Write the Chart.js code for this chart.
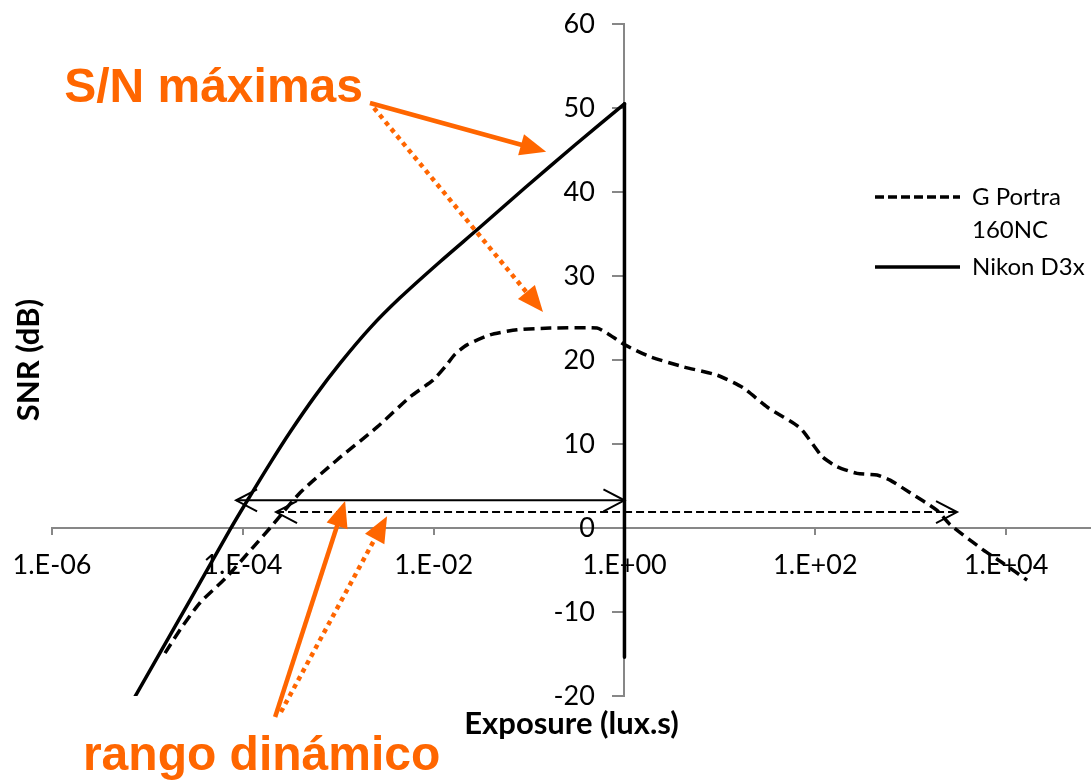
<!DOCTYPE html>
<html>
<head>
<meta charset="utf-8">
<script src="https://cdn.jsdelivr.net/npm/chart.js@4.4.1/dist/chart.umd.min.js"></script>
<style>
  html, body { margin: 0; padding: 0; background: #fff; }
</style>
</head>
<body>
<canvas id="snrChart" width="1091" height="781"></canvas>
<script>
// valori: esposizione (lux.s) e SNR (dB)
const portraExposure = [1.53e-5, 2.2e-5, 3.56e-5, 6.83e-5, 1.28e-4, 1.93e-4, 3.98e-4, 9.71e-4, 2.55e-3, 5.66e-3,
    9.86e-3, 1.32e-2, 1.68e-2, 2.24e-2, 3.9e-2, 7.48e-2, 0.166, 0.516, 0.657, 1.01,
    1.85, 4.11, 9.35, 17.5, 31.3, 69.3, 118, 169, 274, 444,
    608, 986, 1890, 2590, 5740, 9300, 16600];
const portraSnr = [-14.9, -12.1, -8.9, -5.8, -2.3, 0, 4.2, 8.1, 12.0, 15.6,
    17.6, 19.2, 20.7, 21.8, 23.0, 23.6, 23.8, 23.8, 23.2, 21.8,
    20.4, 19.2, 18.2, 16.7, 14.4, 11.9, 8.5, 7.3, 6.5, 6.3,
    5.7, 4.2, 2.1, 0.4, -2.6, -4.2, -6.2];

const nikonExposure = [7.06e-6, 2.8e-5, 7.34e-5, 1.19e-4, 1.93e-4, 3.12e-4, 5.71e-4, 1.044e-3, 2.15e-3, 4.44e-3,
    1.167e-2, 3.06e-2, 9.08e-2, 0.303, 1];
const nikonSnr = [-20.5, -8.6, -0.2, 3.8, 7.7, 11.4, 15.7, 19.6, 23.8, 27.4,
    31.7, 35.8, 40.5, 45.6, 50.5];
// la curva Nikon scende in verticale a 1 lux.s
const nikonDropExposure = [1, 1];
const nikonDropSnr = [50.5, -15.4];

// frecce del rango dinamico (inizio, fine)
const rangeNikonExposure = [8.5e-5, 1];
const rangeNikonSnr = [3.3, 3.3];
const rangePortraExposure = [2.23e-4, 3060];
const rangePortraSnr = [1.9, 1.9];

const seriesLabels = ['G Portra\n160NC', 'Nikon D3x'];
const xTickValues = [1e-6, 1e-4, 1e-2, 1, 1e2, 1e4];
const xTickLabels = ['1.E-06', '1.E-04', '1.E-02', '1.E+00', '1.E+02', '1.E+04'];
const yTickValues = [-20, -10, 0, 10, 20, 30, 40, 50, 60];

// annotazioni arancioni, in coordinate dei dati
const calloutArrows = [
    { from: [2.15e-3, 50.6], to: [0.151, 44.8], dotted: false },
    { from: [2.37e-3, 50.0], to: [0.140, 25.7], dotted: true },
    { from: [2.18e-4, -22.5], to: [1.18e-3, 3.2], dotted: false },
    { from: [2.51e-4, -21.9], to: [3.25e-3, 1.4], dotted: true }
];
const calloutTexts = [
    { text: 'S/N máximas', at: [1.34e-6, 50.7] },
    { text: 'rango dinámico', at: [2.11e-6, -28.8] }
];

const orange = '#ff6600';
const axisGray = '#878787';

const toPoints = (xs, ys) => xs.map((x, i) => ({ x: x, y: ys[i] }));

Chart.defaults.font.family = 'Lato';
Chart.defaults.color = '#000';

// punte aperte delle frecce orizzontali
const rangeHeads = {
    id: 'rangeHeads',
    afterDatasetsDraw(chart) {
        const ctx = chart.ctx;
        ctx.save();
        ctx.strokeStyle = '#000';
        ctx.lineWidth = 2;
        [3, 4].forEach(i => {
            const pts = chart.getDatasetMeta(i).data;
            const ends = [[pts[0], -1], [pts[pts.length - 1], 1]];
            ends.forEach(([p, dir]) => {
                ctx.beginPath();
                ctx.moveTo(p.x - dir * 21, p.y - 11);
                ctx.lineTo(p.x, p.y);
                ctx.lineTo(p.x - dir * 21, p.y + 11);
                ctx.stroke();
            });
        });
        ctx.restore();
    }
};

const callouts = {
    id: 'callouts',
    afterDraw(chart) {
        const { ctx, scales: { x, y } } = chart;
        ctx.save();
        ctx.fillStyle = orange;
        ctx.strokeStyle = orange;
        calloutArrows.forEach(a => {
            const x0 = x.getPixelForValue(a.from[0]), y0 = y.getPixelForValue(a.from[1]);
            const x1 = x.getPixelForValue(a.to[0]), y1 = y.getPixelForValue(a.to[1]);
            const ang = Math.atan2(y1 - y0, x1 - x0);
            const c = Math.cos(ang), s = Math.sin(ang);
            const bx = x1 - c * 26, by = y1 - s * 26;
            ctx.lineWidth = 4.5;
            ctx.lineCap = 'butt';
            ctx.setLineDash(a.dotted ? [4.5, 4.5] : []);
            ctx.beginPath();
            ctx.moveTo(x0, y0);
            ctx.lineTo(bx + c * 2, by + s * 2);
            ctx.stroke();
            ctx.setLineDash([]);
            ctx.beginPath();
            ctx.moveTo(x1, y1);
            ctx.lineTo(bx - s * 11, by + c * 11);
            ctx.lineTo(bx + s * 11, by - c * 11);
            ctx.closePath();
            ctx.fill();
        });
        ctx.font = 'bold 48px "Liberation Sans", Arial, sans-serif';
        ctx.textAlign = 'left';
        ctx.textBaseline = 'alphabetic';
        calloutTexts.forEach(t => {
            ctx.fillText(t.text, x.getPixelForValue(t.at[0]), y.getPixelForValue(t.at[1]));
        });
        ctx.restore();
    }
};

// sposta la legenda dentro l'area del grafico, in alto a destra
const legendPlacer = {
    id: 'legendPlacer',
    afterLayout(chart) {
        const lg = chart.legend;
        lg.left = 871;
        lg.top = 181;
        lg.right = chart.width;
        lg.bottom = chart.height;
    }
};

const noPadding = scale => {
    scale.paddingTop = 0;
    scale.paddingBottom = 0;
    scale.paddingLeft = 0;
    scale.paddingRight = 0;
};

new Chart(document.getElementById('snrChart'), {
    type: 'line',
    data: {
        datasets: [
            {
                label: seriesLabels[0],
                data: toPoints(portraExposure, portraSnr),
                borderColor: '#000',
                borderWidth: 3.5,
                borderDash: [11, 6],
                pointRadius: 0,
                tension: 0.2
            },
            {
                label: seriesLabels[1],
                data: toPoints(nikonExposure, nikonSnr),
                borderColor: '#000',
                borderWidth: 3.5,
                borderCapStyle: 'round',
                pointRadius: 0,
                tension: 0.3
            },
            {
                label: 'Nikon D3x drop',
                data: toPoints(nikonDropExposure, nikonDropSnr),
                borderColor: '#000',
                borderWidth: 3.5,
                borderCapStyle: 'round',
                pointRadius: 0
            },
            {
                label: 'range Nikon',
                data: toPoints(rangeNikonExposure, rangeNikonSnr),
                borderColor: '#000',
                borderWidth: 2,
                pointRadius: 0
            },
            {
                label: 'range Portra',
                data: toPoints(rangePortraExposure, rangePortraSnr),
                borderColor: '#000',
                borderWidth: 2,
                borderDash: [8, 4],
                pointRadius: 0
            }
        ]
    },
    options: {
        responsive: false,
        animation: false,
        layout: { padding: { left: 0, right: 0, top: 24, bottom: 0 } },
        plugins: {
            tooltip: { enabled: false },
            legend: {
                position: 'chartArea',
                align: 'start',
                labels: {
                    usePointStyle: true,
                    pointStyle: 'line',
                    pointStyleWidth: 85,
                    boxWidth: 85,
                    padding: 4,
                    color: '#000',
                    font: { size: 24, lineHeight: 1.375 },
                    generateLabels: chart => chart.data.datasets.slice(0, 2).map((ds, i) => ({
                        text: ds.label.split('\n'),
                        fontColor: '#000',
                        fillStyle: ds.borderColor,
                        strokeStyle: ds.borderColor,
                        lineWidth: 3.5,
                        lineDash: ds.borderDash ? [9, 4] : [],
                        lineCap: 'butt',
                        pointStyle: 'line',
                        hidden: false,
                        datasetIndex: i
                    }))
                }
            }
        },
        scales: {
            x: {
                type: 'logarithmic',
                position: { y: 0 },
                min: 1e-6,
                max: 77600,
                afterBuildTicks: scale => { scale.ticks = xTickValues.map(v => ({ value: v })); },
                afterFit: noPadding,
                grid: { display: true, drawOnChartArea: false, drawTicks: true, tickLength: 6, color: axisGray, lineWidth: 2 },
                border: { display: true, color: axisGray, width: 2 },
                ticks: {
                    autoSkip: false,
                    maxRotation: 0,
                    padding: 15,
                    font: { size: 27 },
                    color: '#000',
                    callback: (value, index) => xTickLabels[index]
                }
            },
            y: {
                type: 'linear',
                position: { x: 1 },
                min: -20,
                max: 60,
                afterBuildTicks: scale => { scale.ticks = yTickValues.map(v => ({ value: v })); },
                afterFit: noPadding,
                grid: { display: true, drawOnChartArea: false, drawTicks: true, tickLength: 11, color: axisGray, lineWidth: 2 },
                border: { display: true, color: axisGray, width: 2 },
                ticks: { display: false }
            },
            // le etichette dell'asse y, un po' a sinistra dell'asse
            yLabels: {
                type: 'linear',
                position: { x: 0.49 },
                min: -20,
                max: 60,
                afterBuildTicks: scale => { scale.ticks = yTickValues.map(v => ({ value: v })); },
                afterFit: noPadding,
                grid: { display: false, drawTicks: false },
                border: { display: false },
                ticks: {
                    font: { size: 27 },
                    color: '#000',
                    callback: value => String(value)
                }
            },
            // assi vuoti solo per i titoli, come nell'originale
            xTitle: {
                type: 'linear',
                position: 'bottom',
                grid: { display: false, drawTicks: false },
                border: { display: false },
                ticks: { display: false },
                title: {
                    display: true,
                    text: 'Exposure (lux.s)',
                    color: '#000',
                    font: { size: 31, weight: 'bold', lineHeight: 1.2 },
                    padding: { top: 9.4, bottom: 38.4 }
                }
            },
            yTitle: {
                type: 'linear',
                position: 'left',
                grid: { display: false, drawTicks: false },
                border: { display: false },
                ticks: { display: false },
                title: {
                    display: true,
                    text: 'SNR (dB)',
                    color: '#000',
                    font: { size: 31, weight: 'bold', lineHeight: 1.2 },
                    padding: { top: 9.9, bottom: 4.9 }
                }
            }
        }
    },
    plugins: [rangeHeads, callouts, legendPlacer]
});
</script>
</body>
</html>
